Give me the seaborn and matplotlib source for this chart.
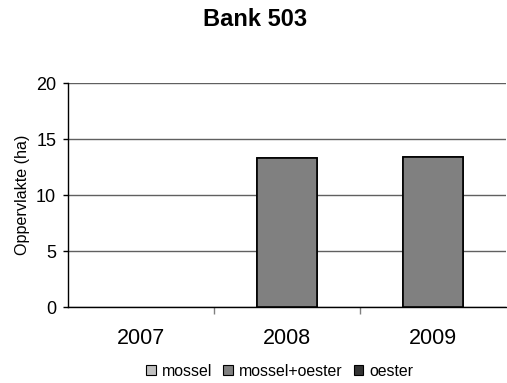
import matplotlib
matplotlib.use("Agg")
import matplotlib.pyplot as plt
from matplotlib.patches import Patch
import seaborn as sns
import pandas as pd
import numpy as np

# Data
years = ["2007", "2008", "2009"]
mossel = [0.0, 0.0, 0.0]
mossel_oester = [0.0, 13.3, 13.4]
oester = [0.0, 0.0, 0.0]

series_names = ["mossel", "mossel+oester", "oester"]
colors = ["#c0c0c0", "#808080", "#333333"]

sns.set_style("white")
plt.rcParams["font.family"] = ["Liberation Sans", "DejaVu Sans"]
plt.rcParams["text.color"] = "black"
plt.rcParams["axes.labelcolor"] = "black"
plt.rcParams["xtick.color"] = "black"
plt.rcParams["ytick.color"] = "black"

fig = plt.figure(figsize=(5.07, 3.83), dpi=100)
ax = fig.add_axes([0.134, 0.198, 0.864, 0.585])

# stacked: draw cumulative totals from top layer down
layers = np.array([mossel, mossel_oester, oester])
cum = np.cumsum(layers, axis=0)
for i in range(len(series_names) - 1, -1, -1):
    df = pd.DataFrame({"Jaar": years, "Waarde": cum[i]})
    sns.barplot(data=df, x="Jaar", y="Waarde", order=years, color=colors[i],
                saturation=1, width=0.41, edgecolor="black", linewidth=1.2,
                ax=ax, zorder=3)

# hide outlines of empty bars
for p in ax.patches:
    if p.get_height() == 0:
        p.set_linewidth(0)

ax.set_ylim(0, 20)
ax.set_xlim(-0.5, 2.5)
ax.set_yticks([0, 5, 10, 15, 20])
ax.yaxis.grid(True, color="#606060", linewidth=1.0, zorder=0)
ax.set_axisbelow(True)

ax.set_xlabel("")
ax.set_ylabel("Oppervlakte (ha)", fontsize=11.6, labelpad=4)
fig.text(0.503, 0.948, "Bank 503", fontsize=17, fontweight="bold",
         ha="center", va="center")

for s in ["top", "right"]:
    ax.spines[s].set_visible(False)
for s in ["left", "bottom"]:
    ax.spines[s].set_color("black")
    ax.spines[s].set_linewidth(1.0)

ax.tick_params(axis="y", which="major", direction="out", length=3.5, width=1,
               color="black", labelsize=13, pad=5, left=True)
ax.tick_params(axis="x", which="major", length=0, labelsize=15.5, pad=15)
ax.set_xticks([0.5, 1.5], minor=True)
ax.tick_params(axis="x", which="minor", direction="out", length=5, width=1,
               color="#808080", bottom=True)

handles = [Patch(facecolor=c, edgecolor="black", linewidth=0.8) for c in colors]
fig.legend(handles, series_names, loc="center", bbox_to_anchor=(0.552, 0.031),
           ncol=3, frameon=False, fontsize=11.4, handlelength=0.6,
           handleheight=0.6, handletextpad=0.4, columnspacing=0.7,
           borderpad=0, borderaxespad=0)

fig.savefig("out.png", dpi=100)
